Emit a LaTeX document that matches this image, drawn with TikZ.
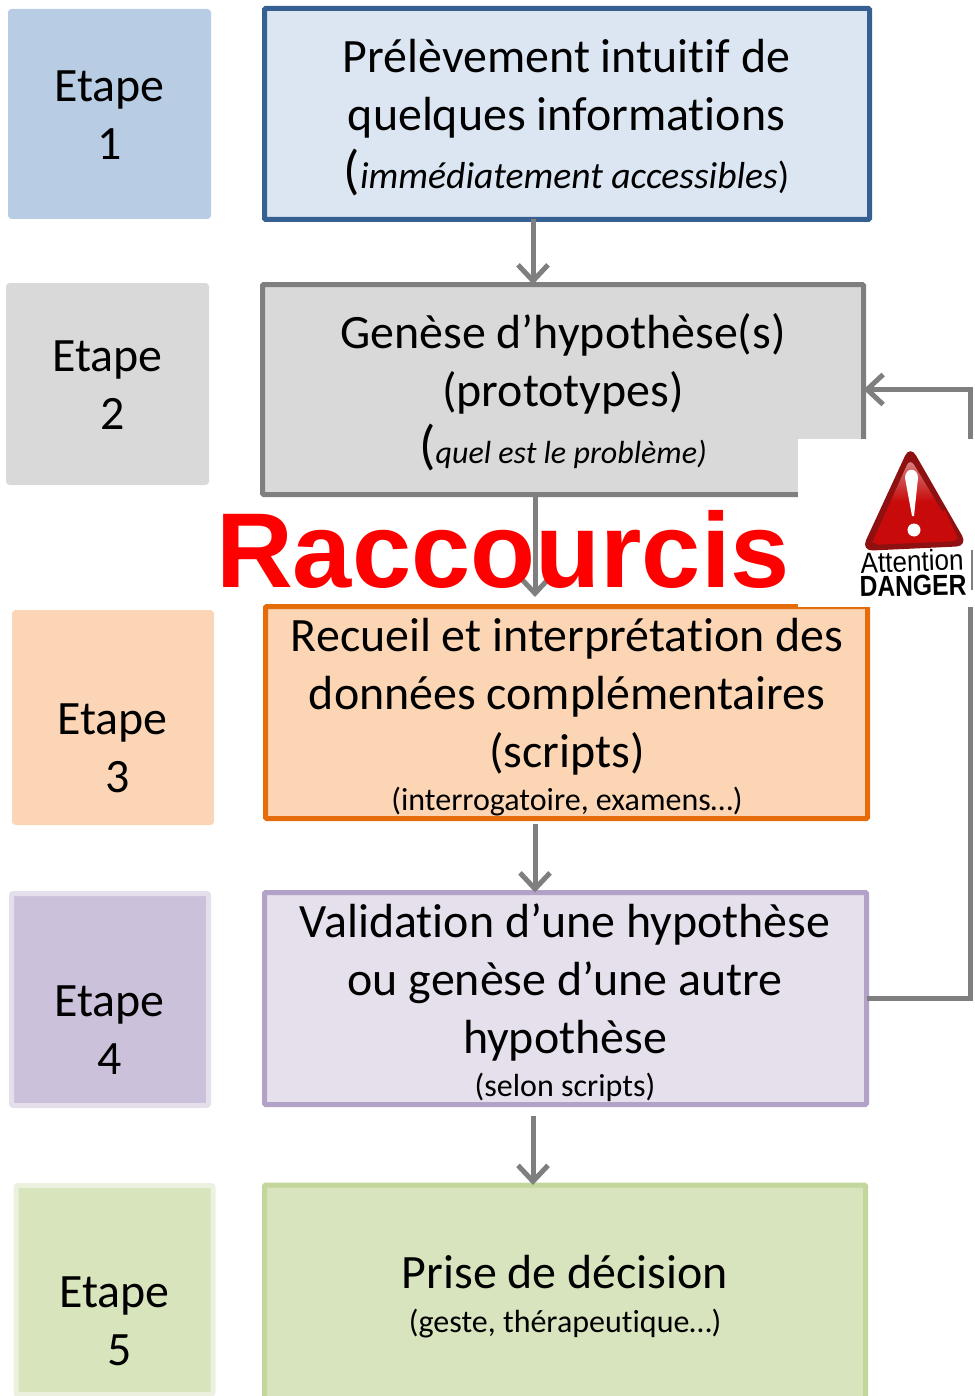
\documentclass[tikz,border=0pt]{standalone}
\usepackage{fontspec}
\setmainfont[Ligatures=NoCommon]{Carlito}
\newfontfamily\arialf{Liberation Sans}
\usetikzlibrary{arrows.meta,calc}
\definecolor{gline}{HTML}{7F7F7F}
\definecolor{eA}{HTML}{B8CCE4}
\definecolor{eB}{HTML}{D9D9D9}
\definecolor{eC}{HTML}{FBD5B5}
\definecolor{eD}{HTML}{CCC1DA}
\definecolor{eDb}{HTML}{E5DFEC}
\definecolor{eE}{HTML}{D8E4BC}
\definecolor{eEb}{HTML}{EBF1DE}
\definecolor{bA}{HTML}{DCE6F2}
\definecolor{bAb}{HTML}{376092}
\definecolor{bCb}{HTML}{E46C0A}
\definecolor{bC}{HTML}{FCD5B5}
\definecolor{bD}{HTML}{E6E0EC}
\definecolor{bDb}{HTML}{B3A2C7}
\definecolor{bE}{HTML}{D7E4BD}
\definecolor{bEb}{HTML}{C3D69B}
\definecolor{trdark}{HTML}{8E1010}
\definecolor{trmid}{HTML}{C80A0A}
\definecolor{trlight}{HTML}{D88888}
\newcommand{\bigsz}{\fontsize{23.95}{29}\selectfont}
\newcommand{\smsz}{\fontsize{16}{20}\selectfont}
\tikzset{
  x=0.5pt,y=-0.5pt,
  etape/.style={rectangle,inner sep=0pt,outer sep=0pt,rounded corners=1pt,line width=2pt},
  bigbox/.style={rectangle,inner sep=0pt,outer sep=0pt,rounded corners=0.6pt,line width=2.5pt},
  txt/.style={align=center,font=\bigsz,text=black,inner sep=0pt},
  conn/.style={draw=gline,line width=2.5pt,-{Straight Barb[length=8pt,width=15pt,line width=2.5pt]}},
}
\begin{document}
\begin{tikzpicture}
\useasboundingbox (0,0) rectangle (974,1396);
% left labels
\node[etape,fill=eA,draw=eA,minimum width=99.5pt,minimum height=103pt] (e1) at (109.5,114) {};
\node[txt] (e1t) at (109.5,115) {Etape\\1};
\node[etape,fill=eB,draw=eB,minimum width=99.5pt,minimum height=99pt] (e2) at (107.5,384) {};
\node[txt] (e2t) at (107.5,385) {Etape\\\hspace*{5pt}2};
\node[etape,fill=eC,draw=eC,minimum width=99pt,minimum height=105.5pt] (e3) at (113,717.5) {};
\node[txt] (e3t) at (112.5,748) {Etape\\\hspace*{5pt}3};
\node[etape,fill=eD,draw=eDb,line width=2.5pt,minimum width=98.5pt,minimum height=106pt] (e4) at (110,999.5) {};
\node[txt] (e4t) at (109.5,1030) {Etape\\4};
\node[etape,fill=eE,draw=eEb,line width=2.5pt,minimum width=98.5pt,minimum height=104.5pt] (e5) at (114.5,1290) {};
\node[txt] (e5t) at (114.5,1321.5) {Etape\\\hspace*{5pt}5};
% main boxes
\node[bigbox,fill=bA,draw=bAb,minimum width=302.5pt,minimum height=105.5pt] (b1) at (567,114) {};
\node[bigbox,fill=eB,draw=gline,minimum width=300.5pt,minimum height=105pt] (b2) at (563,389.5) {};
\node[bigbox,fill=bC,draw=bCb,minimum width=301pt,minimum height=106pt] (b3) at (566.5,712.5) {};
\node[bigbox,fill=bD,draw=bDb,minimum width=301pt,minimum height=106pt] (b4) at (565.5,998.5) {};
\node[bigbox,fill=bE,draw=bEb,minimum width=300.5pt,minimum height=112pt] (b5) at (565,1297) {};
% connector helper coordinates
\coordinate (axA) at (533,0);
\coordinate (axB) at (535,0);
\coordinate (fb) at (970,0);
\coordinate (s2) at (535,597);
\coordinate (s3) at (535,824);
\coordinate (s4) at (533,1116);
% connectors
\draw[conn] (b1.south -| axA) -- (b2.north -| axA);
\draw[conn] (b2.south -| axB) -- (s2);
\draw[conn] (s3) -- (b4.north -| axB);
\draw[conn] (s4) -- (b5.north -| axA);
\draw[conn] (b4.east) -- (b4.east -| fb) -- (b2.east -| fb) -- (b2.east);
% box texts
\node[txt] (t1) at (566.5,118) {Prélèvement intuitif de\\quelques informations\\[0pt]{\fontsize{27}{29}\selectfont(}{\fontsize{18.8}{20}\selectfont\itshape immédiatement accessibles}{\fontsize{18.8}{20}\selectfont)}};
\node[txt] (t2) at (563,392.5) {Genèse d’hypothèse(s)\\(prototypes)\\[-0.5pt]{\fontsize{27}{29}\selectfont(}{\fontsize{16}{20}\selectfont\itshape quel est le problème)}};
\node[txt] (t3) at (567,717.5) {Recueil et interprétation des\\données complémentaires\\(scripts)\\[-7.5pt]{\smsz (interrogatoire, examens…)}};
\node[txt] (t4) at (565,1003) {Validation d’une hypothèse\\ou genèse d’une autre\\hypothèse\\[-7.5pt]{\smsz (selon scripts)}};
\node[txt] (t5) at (565,1297) {Prise de décision\\[-7pt]{\smsz (geste, thérapeutique…)}};
% white patch with the warning sign
\fill[white] (798,439) rectangle (974,607);
\draw[line width=1pt,draw=gray] (972,550) -- (972,590);
\path[rounded corners=6pt,fill=trdark] (910,445) -- (968,546) -- (861,551) -- cycle;
\path[rounded corners=4pt,top color=trlight,bottom color=trmid,middle color=trmid] (910,458) -- (960,541) -- (871,545) -- cycle;
\path[fill=trmid] (872,543) -- (958,539) -- (945,510) .. controls (920,525) and (895,522) .. (884,518) -- cycle;
\path[fill=white] (905,478) .. controls (905,467) and (918,467) .. (918,478) -- (914,516) -- (912,516) -- cycle;
\fill[white] (914,530) circle (6.5);
\node[inner sep=0pt,font=\arialf\fontsize{14.5}{15}\selectfont,rotate=2,xscale=0.9] (att) at (912,561) {Attention};
\node[inner sep=0pt,font=\arialf\bfseries\fontsize{14.5}{15}\selectfont,rotate=1,xscale=0.85] (dang) at (913,586) {DANGER};
% title
\node[inner sep=0pt,text=red,font=\arialf\bfseries\fontsize{53.2}{60}\selectfont] (rac) at (503,549) {Raccourcis};
\end{tikzpicture}
\end{document}
